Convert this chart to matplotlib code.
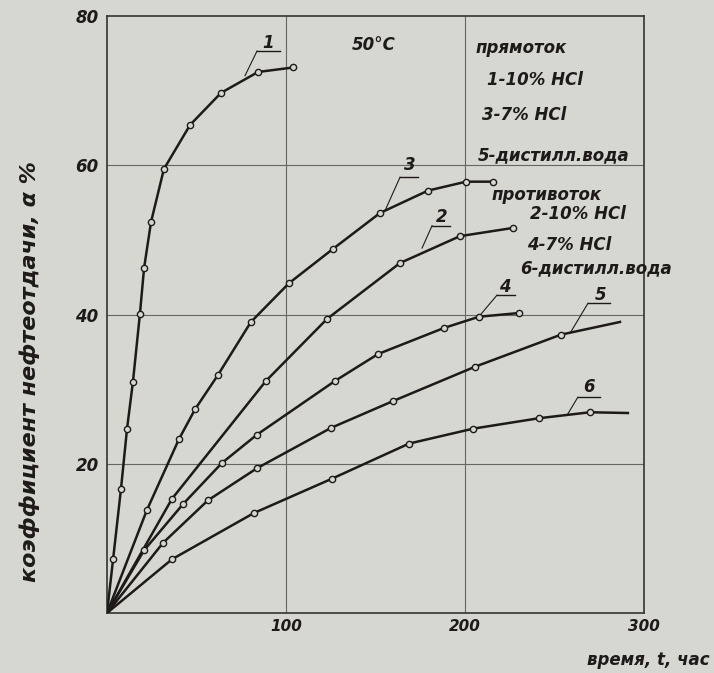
import matplotlib.pyplot as plt

# кривые нефтеотдачи при 50°C: время t, час / коэффициент нефтеотдачи, %
# прямоток
t1 = [0, 3.4, 7.8, 11.2, 14.5, 18.4, 20.7, 24.6, 31.8, 46.4, 63.7, 84.4, 103.9]
a1 = [0, 7.2, 16.6, 24.7, 31.0, 40.1, 46.2, 52.4, 59.5, 65.4, 69.7, 72.5, 73.1]
t3 = [0, 22.3, 40.2, 49.2, 62.0, 80.4, 101.7, 126.3, 152.5, 179.3, 200.6, 215.6]
a3 = [0, 13.8, 23.3, 27.3, 31.9, 39.0, 44.2, 48.8, 53.6, 56.6, 57.8, 57.8]
t5 = [0, 31.3, 56.4, 83.8, 125.1, 159.8, 205.6, 253.6, 286.6]
a5 = [0, 9.4, 15.1, 19.4, 24.8, 28.4, 33.0, 37.3, 39.0]
# противоток
t2 = [0, 36.3, 88.8, 122.9, 163.7, 197.2, 226.8]
a2 = [0, 15.3, 31.1, 39.4, 46.9, 50.5, 51.6]
t4 = [0, 20.7, 42.5, 64.2, 83.8, 127.4, 151.4, 188.3, 207.8, 230.2]
a4 = [0, 8.4, 14.6, 20.1, 23.9, 31.1, 34.7, 38.2, 39.7, 40.2]
t6 = [0, 36.3, 82.1, 125.7, 168.7, 204.5, 241.3, 269.8, 291.0]
a6 = [0, 7.2, 13.4, 18.0, 22.7, 24.7, 26.1, 26.9, 26.8]

xticks = [100, 200, 300]
yticks = [20, 40, 60, 80]

paper = '#d7d7d1'
ink = '#1e1a1a'
font = dict(family='DejaVu Sans', style='oblique', weight='bold', color=ink)

fig = plt.figure(figsize=(7.14, 6.73), dpi=100, facecolor=paper)
ax = fig.add_axes((107 / 714, 1 - 613 / 673, 537 / 714, 597 / 673))
ax.set_facecolor(paper)
ax.set_xlim(0, 300)
ax.set_ylim(0, 80)

ax.set_xticks(xticks)
ax.set_yticks(yticks)
ax.set_xticklabels([str(v) for v in xticks], fontsize=11, **font)
ax.set_yticklabels([str(v) for v in yticks], fontsize=12, **font)
ax.tick_params(length=0, pad=6)
ax.tick_params(axis='x', pad=4)
for s in ax.spines.values():
    s.set_color('#333')
    s.set_linewidth(1.2)

# сетка
for v in [20, 40, 60]:
    ax.axhline(v, color='#666', lw=0.8, zorder=1)
for v in [100, 200]:
    ax.axvline(v, color='#666', lw=0.8, zorder=1)

curves = [(t1, a1, slice(1, None)), (t3, a3, slice(1, None)), (t5, a5, slice(1, -1)),
          (t2, a2, slice(1, None)), (t4, a4, slice(1, None)), (t6, a6, slice(1, -1))]
for t, a, me in curves:
    ax.plot(t, a, color=ink, lw=1.8, marker='o', ms=4.5, mfc=paper, mec=ink,
            mew=1.0, markevery=me, zorder=3)

# номера кривых с выносками: (текст, позиция, подчёркивание x0, x1, y, конец выноски)
labels = [
    ('1', (89.9, 76.4), 83.8, 96.6, 75.3, (77.1, 72.0)),
    ('3', (169.3, 60.0), 163.7, 173.7, 58.4, (155.3, 53.9)),
    ('2', (187.2, 53.1), 181.6, 191.6, 51.9, (176.0, 48.9)),
    ('4', (222.0, 43.7), 217.9, 227.9, 42.6, (208.4, 39.9)),
    ('5', (275.5, 42.6), 268.7, 281.0, 41.5, (258.7, 37.5)),
    ('6', (269.5, 30.3), 263.0, 275.4, 28.9, (257.0, 26.5)),
]
for txt, pos, x0, x1, yl, end in labels:
    ax.text(pos[0], pos[1], txt, fontsize=12, ha='center', va='center', **font)
    ax.plot([x0, x1], [yl, yl], color=ink, lw=1.0, zorder=2)
    ax.plot([x0, end[0]], [yl, end[1]], color=ink, lw=0.8, zorder=2)

def ftext(x, y, s, size=12, **kw):
    fig.text(x / 714, 1 - y / 673, s, fontsize=size, va='center', **font, **kw)

ftext(352, 45, '50°C')
ftext(476, 48, 'прямоток')
ftext(487, 80, '1-10% HCl')
ftext(482, 115, '3-7% HCl')
ftext(478, 155, '5-дистилл.вода')
ftext(492, 195, 'противоток')
ftext(530, 214, '2-10% HCl')
ftext(527, 245, '4-7% HCl')
ftext(520, 268, '6-дистилл.вода')
ftext(710, 660, 'время, t, час', ha='right')

fig.text(30 / 714, 1 - 372 / 673, 'коэффициент нефтеотдачи, α %', fontsize=16,
         rotation=90, ha='center', va='center', **font)

fig.savefig('out.png', dpi=100, facecolor=paper)
